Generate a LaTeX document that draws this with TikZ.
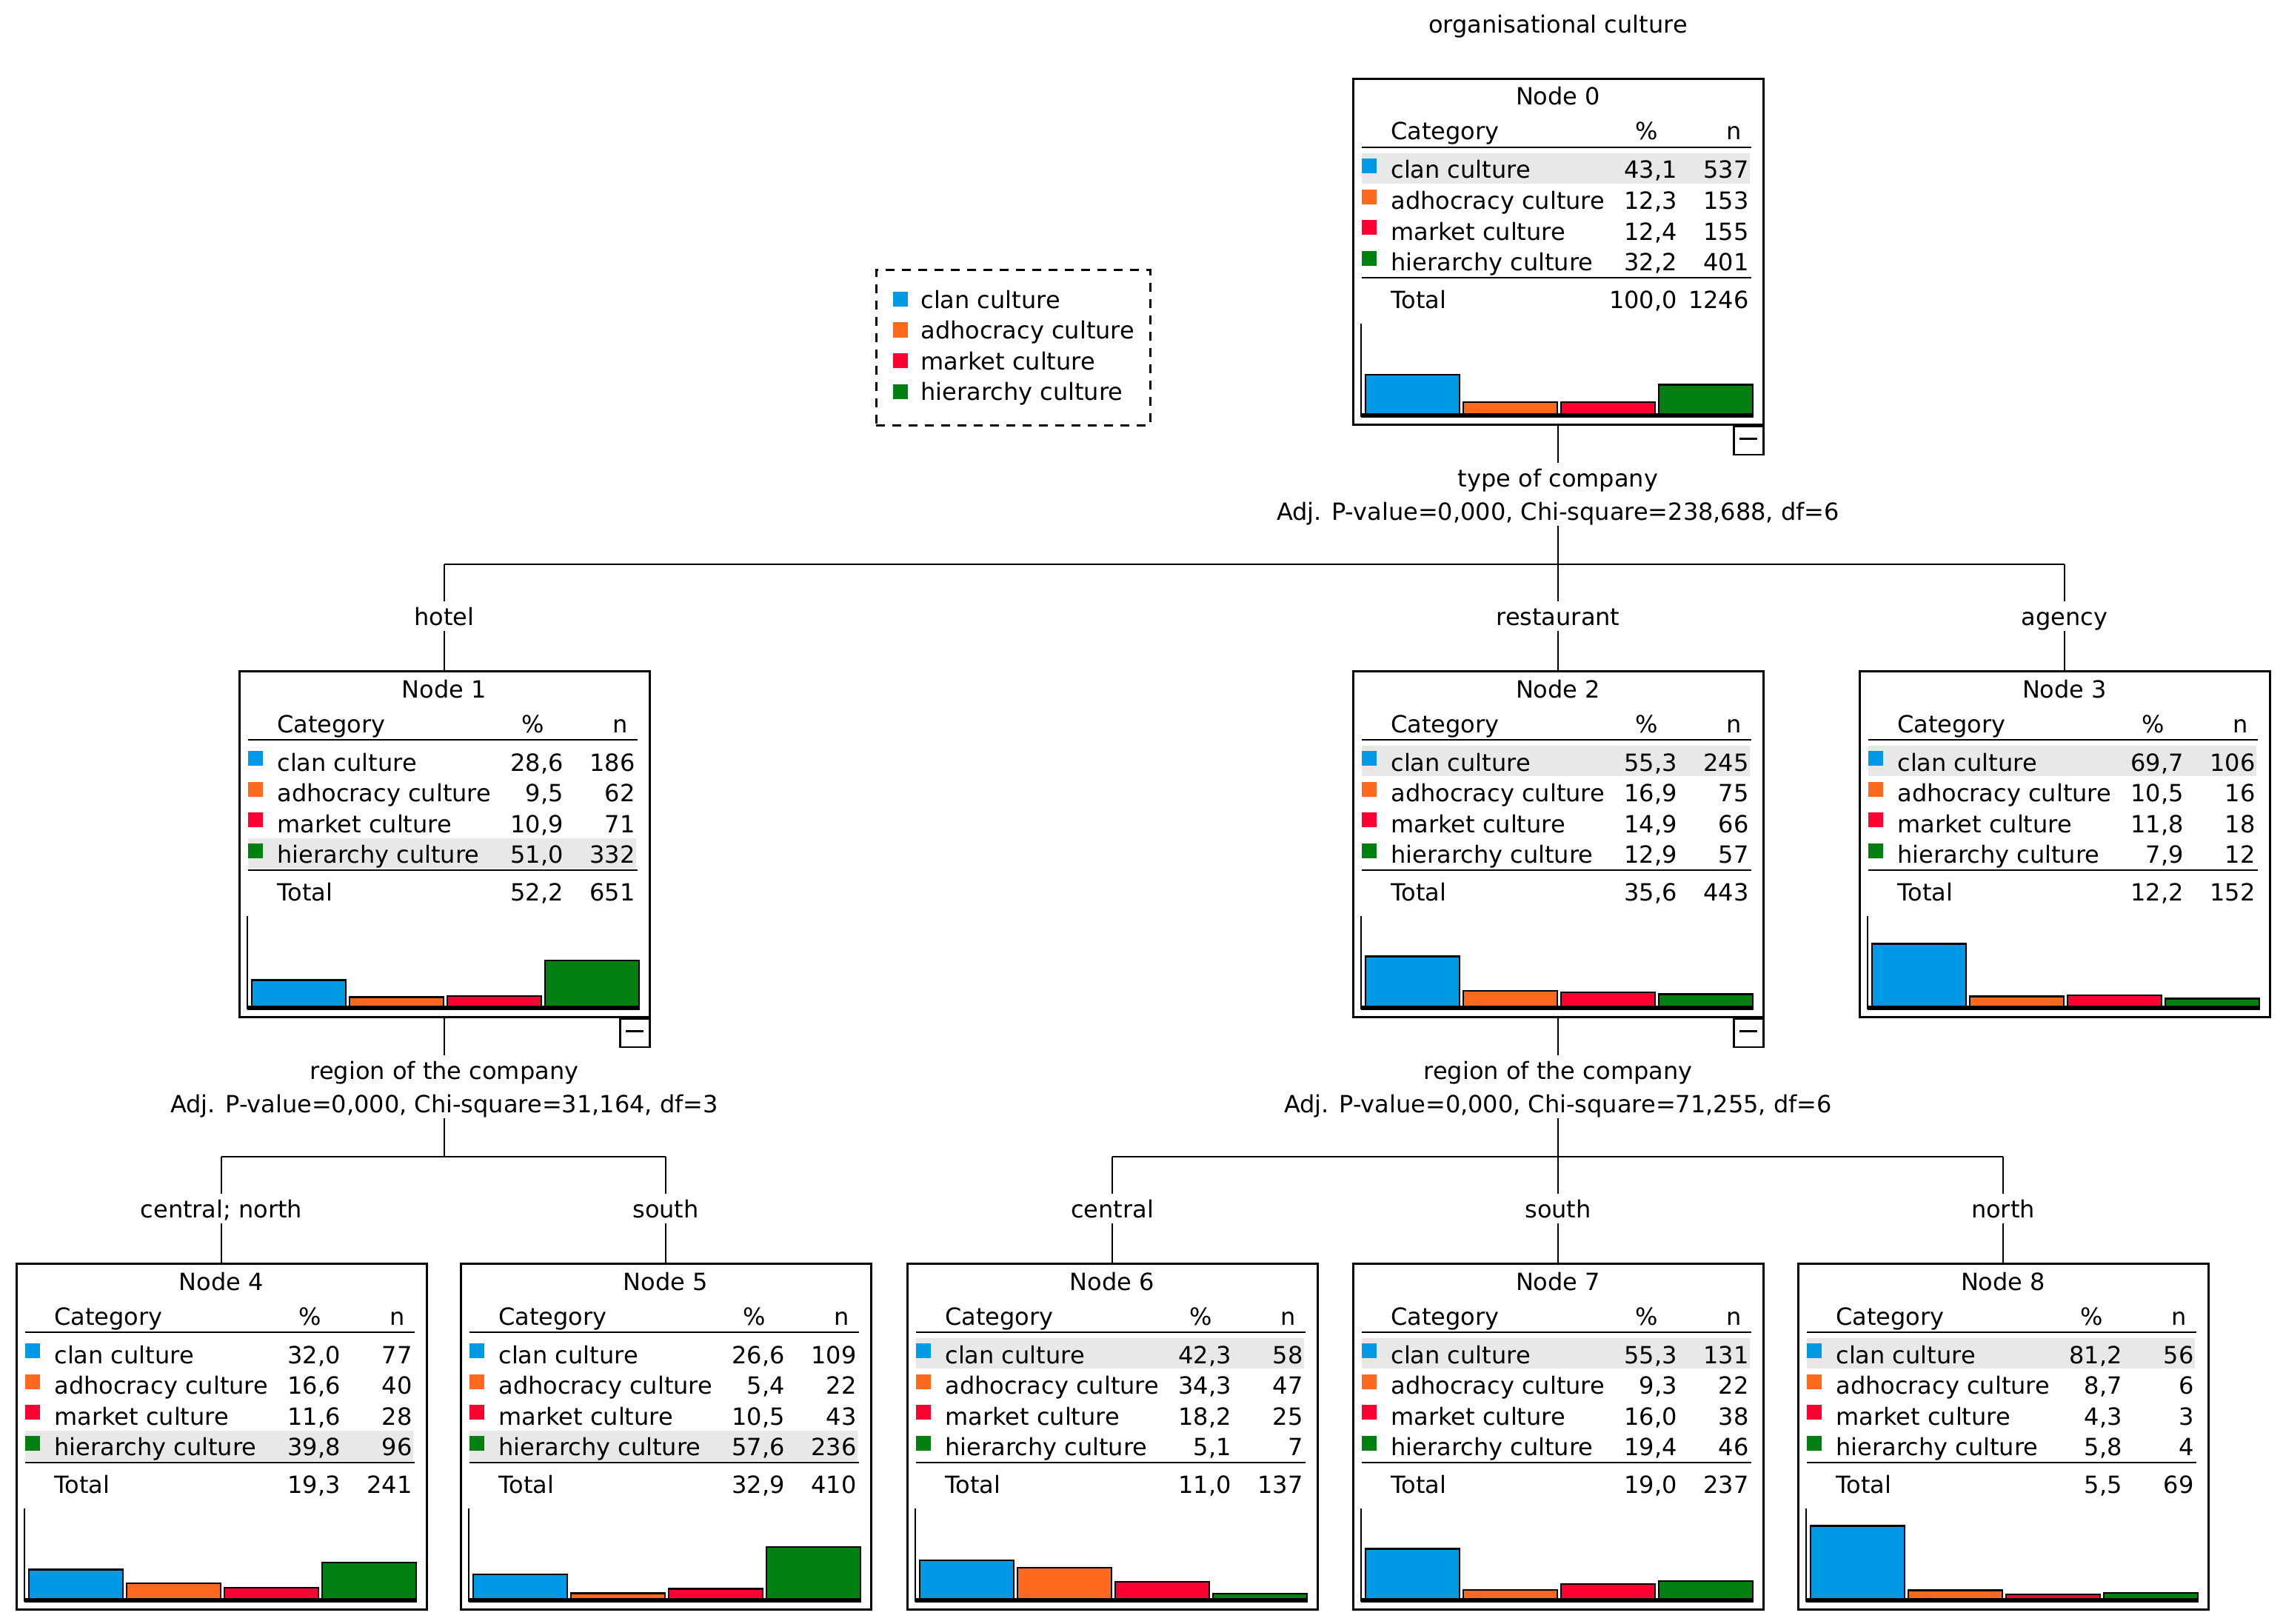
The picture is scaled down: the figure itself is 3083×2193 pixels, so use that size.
\documentclass[tikz,border=0pt]{standalone}
\usepackage{fontspec}
\setmainfont{DejaVu Sans}
\definecolor{cblue}{RGB}{0,153,230}
\definecolor{corange}{RGB}{255,105,30}
\definecolor{cred}{RGB}{255,0,51}
\definecolor{cgreen}{RGB}{0,128,16}
\definecolor{hlgray}{RGB}{232,232,232}
\tikzset{
  x=0.5pt, y=-0.5pt,
  txt/.style={inner sep=0pt, font=\fontsize{16pt}{19pt}\selectfont},
  lbl/.style={anchor=base, inner xsep=0pt, inner ysep=4pt, text height=12pt, text depth=0pt, font=\fontsize{16pt}{19pt}\selectfont},
  nodebox/.style={draw, line width=1.5pt, fill=white, minimum width=277pt, minimum height=233.5pt, inner sep=0pt},
  minusbox/.style={draw, line width=1.2pt, fill=white, minimum width=20pt, minimum height=19pt, inner sep=0pt},
  legendbox/.style={draw, line width=1.5pt, dash pattern=on 6pt off 5pt, minimum width=185pt, minimum height=104.5pt, inner sep=0pt},
  rule/.style={line width=1.4pt},
  axisline/.style={line width=1.2pt},
  baseline/.style={line width=2.8pt},
  bar/.style={draw=black, line width=1.2pt},
  conn/.style={line width=1.3pt},
}
\newcommand\TreeNode[5]{% name, cx, top, title, highlighted row
  \pgfmathsetmacro\nL{#2-277}%
  \pgfmathsetmacro\nT{#3}%
  \node[nodebox, anchor=north] (#1) at (#2,#3) {};
  \pgfmathsetmacro\hY{\nT+102+41.6*#5}%
  \fill[hlgray] (\nL+12,\hY) rectangle (\nL+536,\hY+41);
  \node[txt, anchor=base] (#1-title) at (#2,\nT+37) {#4};
  \node[txt, anchor=base west] (#1-cat) at (\nL+51,\nT+84) {Category};
  \node[txt, anchor=base] (#1-pc) at (\nL+397,\nT+84) {\%};
  \node[txt, anchor=base] (#1-nn) at (\nL+515,\nT+84) {n};
  \draw[rule] (\nL+12,\nT+94) -- (\nL+538,\nT+94);
  \draw[rule] (\nL+12,\nT+270) -- (\nL+538,\nT+270);
  \draw[axisline] (\nL+11,\nT+332) -- (\nL+11,\nT+458);
}
\newcommand\Row[7]{% name, i, colour, label, pct, n, value
  \pgfmathsetmacro\rY{\nT+109+41.6*#2}%
  \fill[#3] (\nL+12,\rY) rectangle (\nL+32,\rY+20);
  \node[txt, anchor=base west] (#1-l#2) at (\nL+51,\rY+27) {#4};
  \node[txt, anchor=base east] (#1-p#2) at (\nL+438,\rY+27) {#5};
  \node[txt, anchor=base east] (#1-n#2) at (\nL+535,\rY+27) {#6};
  \draw[bar, fill=#3] (\nL+17+132*#2,\nT+456) rectangle (\nL+144+132*#2,\nT+453-1.2*#7);
}
\newcommand\Total[3]{% name, pct, n
  \node[txt, anchor=base west] (#1-tot) at (\nL+51,\nT+311) {Total};
  \node[txt, anchor=base east] (#1-totp) at (\nL+438,\nT+311) {#2};
  \node[txt, anchor=base east] (#1-totn) at (\nL+535,\nT+311) {#3};
  \draw[baseline] (\nL+11,\nT+456) -- (\nL+541,\nT+456);
}
\newcommand\Minus[1]{%
  \node[minusbox, anchor=north east] (#1-minus) at (#1.south east) {};
  \draw[line width=1.4pt] ([xshift=-6pt,yshift=1.5pt]#1-minus.center) -- ([xshift=6pt,yshift=1.5pt]#1-minus.center);
}
\begin{document}
\begin{tikzpicture}
\fill[white] (0,0) rectangle (3083,2193);
\useasboundingbox (0,0) rectangle (3083,2193);

\node[txt, anchor=base] (title) at (2104,45) {organisational culture};

% legend
\node[legendbox] (legend) at (1368,469.5) {};
\fill[cblue] (1206,394) rectangle (1226,414);
\node[txt, anchor=base west] (leg1) at (1243,416) {clan culture};
\fill[corange] (1206,435.5) rectangle (1226,455.5);
\node[txt, anchor=base west] (leg2) at (1243,457.5) {adhocracy culture};
\fill[cred] (1206,477) rectangle (1226,497);
\node[txt, anchor=base west] (leg3) at (1243,499) {market culture};
\fill[cgreen] (1206,518.5) rectangle (1226,538.5);
\node[txt, anchor=base west] (leg4) at (1243,540) {hierarchy culture};

% Node 0
\TreeNode{n0}{2104}{105}{Node 0}{0}
\Row{n0}{0}{cblue}{clan culture}{43,1}{537}{43.1}
\Row{n0}{1}{corange}{adhocracy culture}{12,3}{153}{12.3}
\Row{n0}{2}{cred}{market culture}{12,4}{155}{12.4}
\Row{n0}{3}{cgreen}{hierarchy culture}{32,2}{401}{32.2}
\Total{n0}{100,0}{1246}
\Minus{n0}

% Node 1
\TreeNode{n1}{600}{905}{Node 1}{3}
\Row{n1}{0}{cblue}{clan culture}{28,6}{186}{28.6}
\Row{n1}{1}{corange}{adhocracy culture}{9,5}{62}{9.5}
\Row{n1}{2}{cred}{market culture}{10,9}{71}{10.9}
\Row{n1}{3}{cgreen}{hierarchy culture}{51,0}{332}{51.0}
\Total{n1}{52,2}{651}
\Minus{n1}

% Node 2
\TreeNode{n2}{2104}{905}{Node 2}{0}
\Row{n2}{0}{cblue}{clan culture}{55,3}{245}{55.3}
\Row{n2}{1}{corange}{adhocracy culture}{16,9}{75}{16.9}
\Row{n2}{2}{cred}{market culture}{14,9}{66}{14.9}
\Row{n2}{3}{cgreen}{hierarchy culture}{12,9}{57}{12.9}
\Total{n2}{35,6}{443}
\Minus{n2}

% Node 3
\TreeNode{n3}{2788}{905}{Node 3}{0}
\Row{n3}{0}{cblue}{clan culture}{69,7}{106}{69.7}
\Row{n3}{1}{corange}{adhocracy culture}{10,5}{16}{10.5}
\Row{n3}{2}{cred}{market culture}{11,8}{18}{11.8}
\Row{n3}{3}{cgreen}{hierarchy culture}{7,9}{12}{7.9}
\Total{n3}{12,2}{152}

% Node 4
\TreeNode{n4}{299}{1705}{Node 4}{3}
\Row{n4}{0}{cblue}{clan culture}{32,0}{77}{32.0}
\Row{n4}{1}{corange}{adhocracy culture}{16,6}{40}{16.6}
\Row{n4}{2}{cred}{market culture}{11,6}{28}{11.6}
\Row{n4}{3}{cgreen}{hierarchy culture}{39,8}{96}{39.8}
\Total{n4}{19,3}{241}

% Node 5
\TreeNode{n5}{899}{1705}{Node 5}{3}
\Row{n5}{0}{cblue}{clan culture}{26,6}{109}{26.6}
\Row{n5}{1}{corange}{adhocracy culture}{5,4}{22}{5.4}
\Row{n5}{2}{cred}{market culture}{10,5}{43}{10.5}
\Row{n5}{3}{cgreen}{hierarchy culture}{57,6}{236}{57.6}
\Total{n5}{32,9}{410}

% Node 6
\TreeNode{n6}{1502}{1705}{Node 6}{0}
\Row{n6}{0}{cblue}{clan culture}{42,3}{58}{42.3}
\Row{n6}{1}{corange}{adhocracy culture}{34,3}{47}{34.3}
\Row{n6}{2}{cred}{market culture}{18,2}{25}{18.2}
\Row{n6}{3}{cgreen}{hierarchy culture}{5,1}{7}{5.1}
\Total{n6}{11,0}{137}

% Node 7
\TreeNode{n7}{2104}{1705}{Node 7}{0}
\Row{n7}{0}{cblue}{clan culture}{55,3}{131}{55.3}
\Row{n7}{1}{corange}{adhocracy culture}{9,3}{22}{9.3}
\Row{n7}{2}{cred}{market culture}{16,0}{38}{16.0}
\Row{n7}{3}{cgreen}{hierarchy culture}{19,4}{46}{19.4}
\Total{n7}{19,0}{237}

% Node 8
\TreeNode{n8}{2705}{1705}{Node 8}{0}
\Row{n8}{0}{cblue}{clan culture}{81,2}{56}{81.2}
\Row{n8}{1}{corange}{adhocracy culture}{8,7}{6}{8.7}
\Row{n8}{2}{cred}{market culture}{4,3}{3}{4.3}
\Row{n8}{3}{cgreen}{hierarchy culture}{5,8}{4}{5.8}
\Total{n8}{5,5}{69}

% split labels
\node[lbl] (s0a) at (2104,657) {type of company};
\node[lbl] (s0b) at (2104,702) {Adj. P-value=0,000, Chi-square=238,688, df=6};
\node[lbl] (s1a) at (600,1457) {region of the company};
\node[lbl] (s1b) at (600,1502) {Adj. P-value=0,000, Chi-square=31,164, df=3};
\node[lbl] (s2a) at (2104,1457) {region of the company};
\node[lbl] (s2b) at (2104,1502) {Adj. P-value=0,000, Chi-square=71,255, df=6};

% branch labels
\node[lbl] (b1) at (600,844) {hotel};
\node[lbl] (b2) at (2104,844) {restaurant};
\node[lbl] (b3) at (2788,844) {agency};
\node[lbl] (b4) at (299,1644) {central; north};
\node[lbl] (b5) at (899,1644) {south};
\node[lbl] (b6) at (1502,1644) {central};
\node[lbl] (b7) at (2104,1644) {south};
\node[lbl] (b8) at (2705,1644) {north};

% junctions
\coordinate (j0) at (2104,762);
\coordinate (j0l) at (600,762);
\coordinate (j0r) at (2788,762);
\coordinate (j1) at (600,1562);
\coordinate (j1l) at (299,1562);
\coordinate (j1r) at (899,1562);
\coordinate (j2) at (2104,1562);
\coordinate (j2l) at (1502,1562);
\coordinate (j2r) at (2705,1562);

% connectors
\draw[conn] (n0.south) -- (s0a.north);
\draw[conn] (s0b.south) -- (j0);
\draw[conn] (j0l) -- (j0r);
\draw[conn] (j0l) -- (b1.north);
\draw[conn] (j0) -- (b2.north);
\draw[conn] (j0r) -- (b3.north);
\draw[conn] (b1.south) -- (n1.north);
\draw[conn] (b2.south) -- (n2.north);
\draw[conn] (b3.south) -- (n3.north);

\draw[conn] (n1.south) -- (s1a.north);
\draw[conn] (s1b.south) -- (j1);
\draw[conn] (j1l) -- (j1r);
\draw[conn] (j1l) -- (b4.north);
\draw[conn] (j1r) -- (b5.north);
\draw[conn] (b4.south) -- (n4.north);
\draw[conn] (b5.south) -- (n5.north);

\draw[conn] (n2.south) -- (s2a.north);
\draw[conn] (s2b.south) -- (j2);
\draw[conn] (j2l) -- (j2r);
\draw[conn] (j2l) -- (b6.north);
\draw[conn] (j2) -- (b7.north);
\draw[conn] (j2r) -- (b8.north);
\draw[conn] (b6.south) -- (n6.north);
\draw[conn] (b7.south) -- (n7.north);
\draw[conn] (b8.south) -- (n8.north);
\end{tikzpicture}
\end{document}
